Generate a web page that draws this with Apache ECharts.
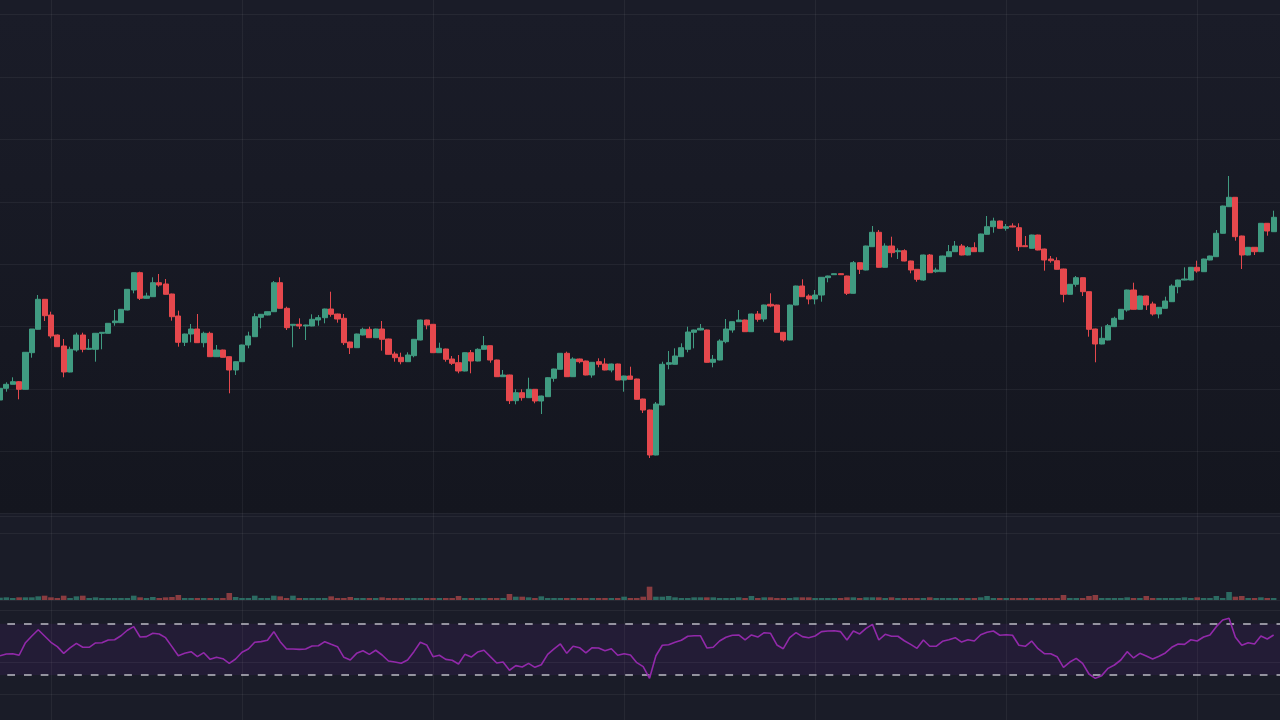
<!DOCTYPE html>
<html><head><meta charset="utf-8">
<script src="https://cdn.jsdelivr.net/npm/echarts@6/dist/echarts.min.js"></script>
<style>html,body{margin:0;padding:0;background:#1a1c28;}#c{width:1280px;height:720px;}</style>
</head><body><div id="c"></div>
<script>
const opens = [
213.5,225.2,229.2,231.8,224.2,260.8,284.2,314.2,298.5,278.5,
267.5,241.5,263.5,278.5,264.2,264.2,280.2,280.2,290.8,290.8,
303.5,323.5,340.8,315.2,316.8,330.8,329.5,319.5,297.5,271.2,
279.5,284.5,270.8,280.2,256.8,263.5,256.8,243.5,251.8,268.5,
276.8,296.2,298.5,301.8,330.8,305.2,288.2,289.2,287.5,287.5,
293.5,295.8,304.5,299.5,295.2,271.5,265.8,278.5,284.2,275.8,
284.5,274.5,259.5,256.2,251.8,257.8,273.5,293.5,289.2,260.8,
264.5,254.5,250.8,242.5,260.8,252.5,264.2,267.8,253.5,236.8,
238.5,212.8,220.8,215.8,224.2,212.5,216.8,235.2,244.2,260.2,
236.8,254.5,252.5,238.5,251.8,249.5,243.5,249.5,233.5,237.5,
234.5,214.5,203.5,158.5,208.5,249.2,249.2,256.8,264.2,281.2,
283.5,283.5,251.2,253.5,271.8,283.5,291.8,293.5,281.8,299.5,
294.5,309.2,308.5,281.2,273.5,308.5,327.5,317.5,314.5,318.5,
335.8,338.8,339.8,337.5,320.2,350.8,343.5,366.8,381.2,346.2,
367.5,361.8,362.8,352.5,344.2,333.5,358.5,341.8,341.8,356.8,
361.8,367.5,358.5,365.8,361.8,379.2,386.8,392.5,385.2,387.5,
385.8,367.8,365.2,378.5,364.5,354.5,352.8,344.5,319.2,329.2,
335.8,321.8,284.5,269.5,273.5,286.8,294.2,303.5,323.5,304.2,
317.5,309.5,299.5,305.2,311.8,326.8,333.5,333.5,346.2,341.8,
353.5,356.8,380.2,406.8,416.2,377.5,358.5,366.2,361.8,390.2,
381.8];
const closes = [
225.2,229.2,231.8,224.2,261.2,284.5,314.2,297.8,277.5,266.8,
241.5,264.2,278.5,264.2,265.2,280.2,281.2,290.2,292.5,304.2,
324.2,340.8,315.2,317.5,330.8,328.5,319.2,296.8,271.2,279.5,
284.5,270.8,280.2,256.8,263.5,256.2,243.5,251.8,268.5,277.5,
296.8,299.2,301.8,330.8,305.2,285.8,289.2,287.5,288.5,294.2,
295.8,304.5,299.2,294.5,270.8,265.8,279.5,284.2,275.8,284.5,
274.2,259.2,255.8,251.8,258.5,274.2,293.5,288.5,260.8,265.2,
254.2,250.2,242.5,260.8,252.5,264.2,267.8,253.5,236.8,238.5,
212.8,220.8,215.8,224.2,212.5,217.5,235.8,244.5,260.2,236.8,
254.5,251.8,238.5,251.2,249.2,243.5,249.5,233.5,237.5,234.2,
214.2,203.5,158.5,209.5,249.2,250.8,257.5,265.8,281.5,283.5,
285.2,251.2,254.2,272.5,284.5,291.8,293.5,281.8,299.5,294.2,
308.5,307.5,281.2,273.5,308.5,327.5,316.8,314.5,318.5,336.2,
337.5,339.8,338.8,320.2,350.8,344.2,367.5,381.2,346.2,367.5,
360.8,362.8,352.5,343.5,334.2,358.5,340.8,343.5,357.5,361.8,
367.5,358.5,365.8,361.8,379.5,386.8,392.5,385.2,386.8,386.5,
366.8,366.8,378.5,363.5,353.5,352.8,344.2,319.2,329.2,335.8,
321.8,284.2,269.5,275.2,287.8,295.2,304.2,323.5,304.2,317.5,
308.5,299.5,306.2,312.5,327.5,333.5,334.5,346.2,342.5,354.5,
357.5,380.2,407.5,416.2,376.8,358.5,366.2,361.8,390.2,382.5,
396.2];
const lows = [
212.5,221.8,229.2,214.2,224.0,255.8,284.0,292.5,275.2,266.5,
236.2,241.2,261.8,261.2,263.5,251.8,264.2,280.0,287.8,290.5,
303.2,320.2,313.5,315.0,316.5,326.8,319.0,292.8,266.8,267.5,
271.2,270.5,266.2,256.5,256.5,256.0,220.2,238.5,251.5,265.2,
276.5,285.2,298.2,301.5,305.0,283.5,266.2,284.5,273.5,287.2,
287.8,290.2,296.8,290.8,268.5,259.5,265.5,278.2,275.5,275.5,
262.8,259.0,251.8,249.2,251.5,256.2,273.2,284.2,260.5,260.5,
251.8,248.5,240.2,242.2,240.2,252.2,264.0,250.8,236.5,236.5,
209.5,209.2,212.8,215.5,210.2,199.5,216.5,231.8,244.0,236.5,
236.5,250.2,238.2,235.8,246.2,243.2,241.2,233.2,221.8,234.0,
214.0,200.5,155.5,158.2,208.2,244.2,249.0,256.5,261.2,265.2,
283.2,251.0,246.2,253.2,270.2,280.8,291.5,281.5,281.5,291.8,
291.8,306.2,281.0,271.8,273.2,308.2,316.5,309.2,309.2,311.8,
331.2,338.5,338.5,318.5,320.0,339.5,343.2,366.5,346.0,346.0,
356.2,354.5,352.2,340.2,331.8,332.8,340.5,340.8,341.5,356.5,
361.5,358.2,358.2,361.5,361.5,379.0,380.8,385.0,382.8,386.2,
362.5,366.5,365.0,363.2,342.8,350.8,344.0,311.2,319.0,326.8,
317.5,276.8,251.2,269.2,273.2,286.5,294.0,301.8,304.0,304.0,
303.5,297.8,295.2,305.0,311.5,320.2,333.2,333.2,340.8,341.5,
353.2,356.5,380.0,406.5,372.8,344.5,358.2,358.5,361.5,377.8,
381.5];
const highs = [
228.5,231.2,236.2,232.5,261.5,284.5,318.5,314.5,301.8,279.0,
274.5,266.8,280.8,280.8,274.5,280.5,281.2,290.5,303.5,304.5,
324.5,341.0,341.8,320.8,336.2,339.5,334.5,319.8,302.8,279.8,
289.5,299.5,281.8,281.8,268.5,263.8,257.0,252.0,268.8,281.8,
300.2,299.5,302.0,332.5,336.2,306.8,289.5,295.2,288.8,299.2,
298.5,304.8,321.8,299.8,299.5,271.8,279.8,285.8,286.8,284.8,
292.5,274.8,261.8,260.8,261.2,274.5,293.8,293.8,289.5,270.8,
264.8,257.5,258.5,261.0,263.5,265.2,277.5,268.0,253.8,243.5,
238.8,224.2,224.2,235.8,224.5,217.8,236.2,244.8,260.5,261.8,
256.2,254.8,252.8,251.5,255.2,255.2,249.8,249.8,237.8,246.8,
234.8,214.8,203.8,211.5,251.8,262.5,265.2,270.2,286.8,283.8,
289.5,283.8,258.5,274.2,294.5,292.0,303.5,293.8,299.8,302.5,
308.8,320.2,308.8,281.5,308.8,327.8,334.2,319.2,323.5,336.5,
337.8,340.0,340.2,337.8,352.5,351.0,367.8,387.5,383.5,370.2,
376.8,365.2,364.2,352.8,344.5,358.8,359.5,345.8,357.8,368.5,
372.5,369.5,367.5,371.2,379.8,397.5,395.8,392.8,389.5,390.2,
390.2,377.5,378.8,378.8,364.8,357.5,356.2,344.8,329.5,337.5,
336.0,322.0,284.8,286.8,289.5,296.8,304.5,323.8,330.8,317.8,
317.8,311.8,306.5,316.8,329.2,333.8,346.2,346.5,352.8,354.8,
357.8,383.5,407.8,437.5,416.5,377.8,366.5,366.5,390.5,390.5,
402.8];
const volumes = [
28,32,24,32,32,32,44,52,32,24,
52,24,44,52,24,32,24,24,24,24,
24,52,32,24,36,24,32,36,60,24,
24,24,24,24,24,24,84,36,24,24,
52,24,24,52,44,24,52,24,24,24,
24,24,44,24,24,36,24,24,24,24,
32,24,24,24,24,24,24,24,24,24,
24,24,48,24,24,24,24,24,24,24,
72,40,40,32,24,44,24,24,24,24,
24,24,24,24,24,24,24,24,40,24,
24,40,160,40,40,48,32,24,24,32,
32,32,32,24,24,24,32,24,48,24,
32,32,24,24,24,32,32,32,24,24,
24,24,24,32,32,24,32,32,32,24,
32,24,24,24,24,24,32,24,24,24,
24,24,24,24,32,48,24,24,24,24,
24,24,24,24,24,24,24,60,24,24,
24,48,60,24,24,24,24,32,24,24,
48,24,24,24,24,24,32,24,32,24,
24,48,24,96,40,48,24,24,32,24,
24];
const rsi = [
45.0,46.4,46.6,45.4,55.2,60.4,65.3,60.4,55.5,52.1,
46.9,51.1,54.7,51.6,51.6,55.0,55.2,57.3,57.5,60.6,
64.9,67.7,59.6,59.9,62.5,62.0,59.1,52.1,45.0,46.9,
48.2,44.3,47.4,42.2,43.8,42.7,39.1,42.5,47.7,50.3,
55.5,56.0,57.1,63.8,56.0,50.3,50.3,50.0,50.3,52.6,
52.8,56.0,53.9,52.1,43.8,41.7,46.9,48.9,46.1,49.3,
45.6,40.9,40.1,39.1,41.7,48.2,55.5,53.4,44.3,45.4,
42.2,41.5,38.6,46.1,44.0,47.9,49.3,44.3,39.4,40.1,
33.7,37.3,36.2,39.1,36.0,38.0,46.1,50.3,54.2,46.9,
52.4,51.3,47.2,51.3,51.1,48.9,50.5,45.4,46.6,45.6,
39.6,36.5,27.4,45.0,53.2,53.6,55.5,57.1,60.2,60.6,
60.6,51.1,51.6,56.5,59.4,61.0,61.2,57.3,61.2,59.6,
63.0,62.5,53.4,50.5,59.1,63.0,59.9,59.1,60.4,63.8,
64.3,64.5,63.8,57.3,64.3,62.0,66.4,69.5,57.3,61.7,
60.2,60.2,56.7,53.9,50.8,57.3,52.4,52.4,56.3,57.5,
59.1,55.7,57.5,56.5,61.4,63.3,64.3,61.0,61.4,61.0,
53.2,52.4,56.5,50.5,46.6,46.6,44.3,36.0,40.1,43.0,
39.1,30.8,27.4,29.5,35.2,37.8,41.7,48.2,43.3,46.9,
44.8,42.5,44.6,47.2,51.6,54.2,53.9,57.5,56.5,59.6,
61.2,67.7,72.9,74.2,59.4,53.2,55.2,54.2,60.4,58.1,
61.2];
// category labels (hidden on the chart)
const dates = [];
(function(){ const t0 = Date.UTC(2023,0,2); for (let i = 0; i < 202; i++) { const d = new Date(t0 + i*86400000); dates.push(d.toISOString().slice(0,10)); } })();

const UP = '#409b81', DOWN = '#e5484d';
const VUP = '#2c6b62', VDOWN = '#8a3c40';
const GL = 'rgba(255,255,255,0.055)';

const candles = opens.map((o,i)=>[o, closes[i], lows[i], highs[i]]);
const vols = volumes.map((v,i)=>({value:v, itemStyle:{color: closes[i] >= opens[i] ? VUP : VDOWN}}));

const chart = echarts.init(document.getElementById('c'), null, {renderer:'canvas'});
const hid = {axisLine:{show:false}, axisTick:{show:false}, axisLabel:{show:false}};
const option = {
  backgroundColor: '#1a1c28',
  animation: false,
  grid: [
    {left:0, right:-2, top:14.7, height:498.8, show:true, borderWidth:0,
     backgroundColor:{type:'linear',x:0,y:0,x2:0,y2:1,colorStops:[{offset:0,color:'#1a1c28'},{offset:1,color:'#14161f'}]}},
    {left:0, right:-2, top:516.7, height:83.3},
    {left:0, right:-2, top:610, height:84},
    {left:0, right:-2, top:0, height:720}
  ],
  xAxis: [0,1,2,3].map(g => Object.assign({
    type:'category', gridIndex:g, data:dates, boundaryGap:false,
    splitLine:{show: g===3, interval:(i)=> i % 30 === 8, lineStyle:{color:GL, width:1}}
  }, hid)),
  yAxis: [
    Object.assign({gridIndex:0, type:'value', min:100, max:598.8, splitLine:{show:false}}, hid),
    Object.assign({gridIndex:0, type:'value', min:0, max:8, interval:1, splitLine:{show:true, lineStyle:{color:GL}}}, hid),
    Object.assign({gridIndex:1, type:'value', min:0, max:1000, interval:800, splitLine:{show:true, lineStyle:{color:GL}}}, hid),
    Object.assign({gridIndex:2, type:'value', min:15.19, max:80.68, splitLine:{show:false}}, hid),
    Object.assign({gridIndex:2, type:'value', min:0, max:1, interval:1, splitLine:{show:true, lineStyle:{color:GL}}}, hid),
    Object.assign({gridIndex:3, type:'value', min:0, max:1, splitLine:{show:false}}, hid)
  ],
  series: [
    {type:'candlestick', xAxisIndex:0, yAxisIndex:0, data:candles, barWidth:5.6,
     itemStyle:{color:UP, color0:DOWN, borderColor:UP, borderColor0:DOWN, borderWidth:1}},
    {type:'bar', xAxisIndex:1, yAxisIndex:2, data:vols, barWidth:5.6},
    {type:'line', xAxisIndex:2, yAxisIndex:3, data:rsi, z:3, symbol:'none',
     lineStyle:{color:'#9229aa', width:1.6},
     markArea:{silent:true, itemStyle:{color:'rgba(110,30,160,0.12)'}, data:[[{yAxis:70},{yAxis:30}]]},
     markLine:{silent:true, z:2, symbol:'none', label:{show:false}, animation:false,
       data:[
         {yAxis:70, lineStyle:{color:'rgba(215,215,222,0.85)', width:1.5, type:[7.7,9], dashOffset:9.4}},
         {yAxis:30, lineStyle:{color:'rgba(215,215,222,0.85)', width:1.5, type:[7.7,9], dashOffset:9.4}},
         {yAxis:40, lineStyle:{color:GL, width:1, type:'solid'}}
       ]}}
  ]
};
chart.setOption(option);
</script></body></html>
